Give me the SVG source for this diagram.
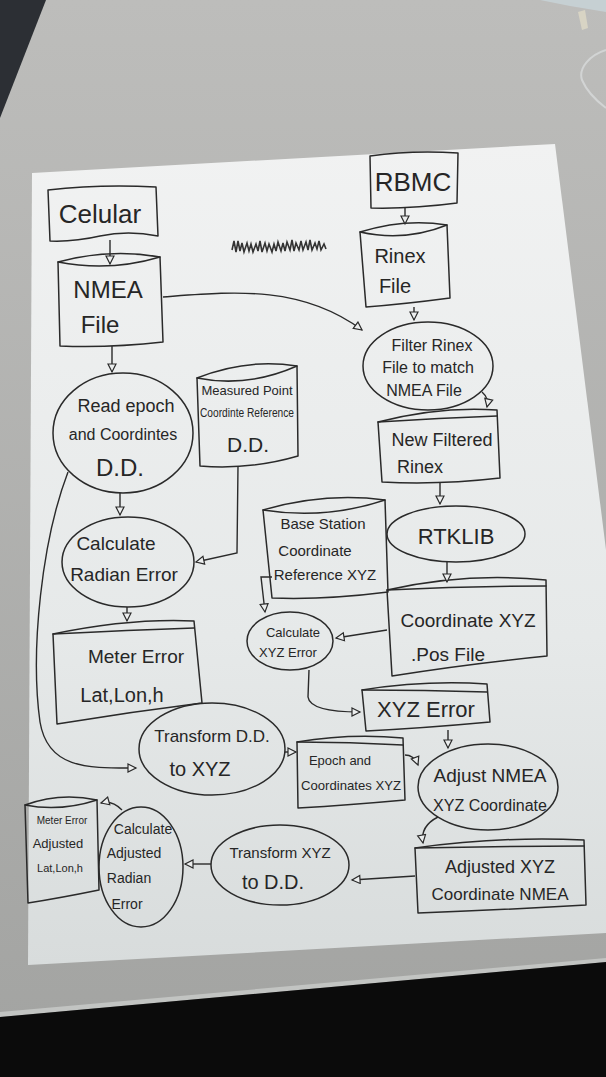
<svg xmlns="http://www.w3.org/2000/svg" width="606" height="1077" viewBox="0 0 606 1077">
<defs>
<linearGradient id="bg" x1="0" y1="0" x2="0" y2="1">
<stop offset="0" stop-color="#bdbdbb"/>
<stop offset="1" stop-color="#a2a3a1"/>
</linearGradient>
<linearGradient id="paper" x1="0" y1="0" x2="0" y2="1">
<stop offset="0" stop-color="#f1f2f2"/>
<stop offset="0.6" stop-color="#e6e9e9"/>
<stop offset="1" stop-color="#d8dcdc"/>
</linearGradient>
<marker id="arr" markerWidth="12" markerHeight="12" refX="9" refY="5" orient="auto" markerUnits="userSpaceOnUse">
<path d="M1,1 L9,5 L1,9 Z" fill="#eceeee" stroke="#2a2a2a" stroke-width="1.2"/>
</marker>
<style>
.n{fill:none;stroke:#2a2a2a;stroke-width:1.5;stroke-linejoin:round;stroke-linecap:round}
.c{fill:none;stroke:#2a2a2a;stroke-width:1.4;marker-end:url(#arr)}
text{font-family:"Liberation Sans","DejaVu Sans",sans-serif;fill:#262626;text-anchor:middle}
</style>
</defs>
<rect width="606" height="1077" fill="url(#bg)"/>
<polygon points="0,0 46,0 0,118" fill="#2c2f34"/>
<polygon points="540,0 606,0 606,12 570,6" fill="#c6d0d3"/>
<path d="M578,12 L585,10 L588,28 L582,30 Z" fill="#d8d4c4"/>
<path d="M606,50 C590,55 578,68 582,80 C588,94 598,102 606,108" fill="none" stroke="#d2d4d4" stroke-width="2"/>
<polygon points="0,1012 606,958 606,962 0,1017" fill="#c2c4c2"/>
<polygon points="0,1017 606,962 606,1077 0,1077" fill="#0b0b0b"/>
<polygon points="32,173 555,144 606,550 606,933 28,965" fill="url(#paper)"/>
<path d="M232,250 l2,-9 l2,11 l2,-11 l2,10 l2,-8 l2,9 l3,-9 l2,8 l2,-7 l2,8 l3,-8 l2,7 l2,-10 l2,11 l3,-9 l2,8 l2,-7 l3,8 l2,-8 l2,7 l2,-9 l3,9 l2,-8 l2,8 l2,-9 l3,8 l2,-10 l2,11 l2,-8 l3,7 l2,-9 l2,9 l3,-8 l2,8 l2,-10 l2,10 l3,-7 l2,6 l2,-8 l2,9 l3,-6 l2,5" fill="none" stroke="#333" stroke-width="1.6"/>

<g id="celular">
<path class="n" d="M48,190 Q100,184 156,187 L158,236 Q128,230 100,236 Q74,242 50,241 Z"/>
<text x="100" y="223" font-size="26">Celular</text>
</g>
<g id="nmea-file">
<path class="n" d="M58,262 Q110,248 160,257 L163,342 Q110,348 60,346 Z"/>
<path class="n" d="M58,262 Q110,272 160,257"/>
<text x="108" y="298" font-size="24">NMEA</text>
<text x="100" y="333" font-size="24">File</text>
</g>
<g id="rbmc">
<path class="n" d="M370,156 Q412,150 458,153 L457,203 Q412,209 371,208 Z"/>
<text x="413" y="191" font-size="26">RBMC</text>
</g>
<g id="rinex-file">
<path class="n" d="M360,232 Q405,218 447,225 L450,298 Q405,304 366,307 Z"/>
<path class="n" d="M360,232 Q405,242 447,225"/>
<text x="400" y="263" font-size="20">Rinex</text>
<text x="395" y="293" font-size="20">File</text>
</g>
<g id="filter-rinex">
<ellipse class="n" cx="428" cy="366" rx="65" ry="44"/>
<text x="432" y="351" font-size="16">Filter Rinex</text>
<text x="428" y="373" font-size="16">File to match</text>
<text x="424" y="396" font-size="16">NMEA File</text>
</g>
<g id="new-filtered-rinex">
<path class="n" d="M378,422 Q440,406 497,410 L500,478 Q440,485 382,482 Z"/>
<path class="n" d="M378,422 Q440,418 497,416"/>
<text x="442" y="446" font-size="18">New Filtered</text>
<text x="420" y="473" font-size="18">Rinex</text>
</g>
<g id="read-epoch">
<ellipse class="n" cx="123" cy="433" rx="70" ry="60"/>
<text x="126" y="412" font-size="18">Read epoch</text>
<text x="123" y="440" font-size="16">and Coordintes</text>
<text x="120" y="476" font-size="24">D.D.</text>
</g>
<g id="measured-point">
<path class="n" d="M197,378 Q247,358 297,366 L298,456 Q250,470 200,466 Z"/>
<path class="n" d="M197,378 Q247,388 297,366"/>
<text x="247" y="395" font-size="13">Measured Point</text>
<text x="247" y="417" font-size="12" textLength="94" lengthAdjust="spacingAndGlyphs">Coordinte Reference</text>
<text x="248" y="452" font-size="21">D.D.</text>
</g>
<g id="calc-radian">
<ellipse class="n" cx="128" cy="562" rx="66" ry="45"/>
<text x="116" y="550" font-size="19">Calculate</text>
<text x="124" y="581" font-size="19">Radian Error</text>
</g>
<g id="meter-error">
<path class="n" d="M53,634 Q130,618 194,621 L202,703 Q130,712 57,724 Z"/>
<path class="n" d="M53,634 Q130,630 194,628"/>
<text x="136" y="663" font-size="19">Meter Error</text>
<text x="122" y="702" font-size="20">Lat,Lon,h</text>
</g>
<g id="base-station">
<path class="n" d="M263,510 Q325,492 385,500 L388,592 Q325,600 272,598 Z"/>
<path class="n" d="M263,510 Q325,520 385,500"/>
<text x="323" y="529" font-size="15">Base Station</text>
<text x="315" y="556" font-size="15">Coordinate</text>
<text x="325" y="580" font-size="15">Reference XYZ</text>
</g>
<g id="rtklib">
<ellipse class="n" cx="456" cy="534" rx="69" ry="28"/>
<text x="456" y="544" font-size="22">RTKLIB</text>
</g>
<g id="coordinate-pos">
<path class="n" d="M387,590 Q467,572 546,580 L547,656 Q467,664 392,676 Z"/>
<path class="n" d="M387,590 Q467,586 546,586"/>
<text x="468" y="627" font-size="19">Coordinate XYZ</text>
<text x="448" y="661" font-size="19">.Pos File</text>
</g>
<g id="calc-xyz">
<ellipse class="n" cx="290" cy="641" rx="43" ry="29"/>
<text x="293" y="637" font-size="13">Calculate</text>
<text x="288" y="657" font-size="13">XYZ Error</text>
</g>
<g id="xyz-error">
<path class="n" d="M362,690 Q425,680 487,684 L490,722 Q425,728 366,731 Z"/>
<path class="n" d="M362,690 Q425,690 487,692"/>
<text x="426" y="717" font-size="22">XYZ Error</text>
</g>
<g id="transform-dd">
<ellipse class="n" cx="212" cy="749" rx="73" ry="46"/>
<text x="212" y="742" font-size="17">Transform D.D.</text>
<text x="200" y="776" font-size="20">to XYZ</text>
</g>
<g id="epoch-xyz">
<path class="n" d="M297,742 Q350,733 403,738 L405,800 Q350,805 298,808 Z"/>
<path class="n" d="M297,742 Q350,742 403,745"/>
<text x="340" y="765" font-size="13">Epoch and</text>
<text x="351" y="790" font-size="13" textLength="100" lengthAdjust="spacingAndGlyphs">Coordinates XYZ</text>
</g>
<g id="adjust-nmea">
<ellipse class="n" cx="488" cy="787" rx="70" ry="43"/>
<text x="490" y="782" font-size="19">Adjust NMEA</text>
<text x="490" y="811" font-size="16">XYZ Coordinate</text>
</g>
<g id="adjusted-xyz">
<path class="n" d="M415,848 Q500,836 584,840 L586,905 Q500,910 418,913 Z"/>
<path class="n" d="M415,848 Q500,846 584,846"/>
<text x="500" y="873" font-size="18">Adjusted XYZ</text>
<text x="500" y="900" font-size="17">Coordinate NMEA</text>
</g>
<g id="transform-xyz">
<ellipse class="n" cx="280" cy="865" rx="69" ry="40"/>
<text x="280" y="858" font-size="15">Transform XYZ</text>
<text x="273" y="889" font-size="20">to D.D.</text>
</g>
<g id="calc-adjusted-radian">
<ellipse class="n" cx="141" cy="867" rx="42" ry="60"/>
<text x="143" y="834" font-size="14">Calculate</text>
<text x="134" y="858" font-size="14">Adjusted</text>
<text x="129" y="883" font-size="14">Radian</text>
<text x="127" y="909" font-size="14">Error</text>
</g>
<g id="meter-error-adjusted">
<path class="n" d="M25,805 Q60,792 97,800 L99,890 Q60,898 28,903 Z"/>
<path class="n" d="M25,805 Q60,812 97,800"/>
<text x="62" y="824" font-size="10">Meter Error</text>
<text x="58" y="848" font-size="13">Adjusted</text>
<text x="60" y="872" font-size="11">Lat,Lon,h</text>
</g>

<g id="connectors">
<path class="c" d="M110,240 L110,264"/>
<path class="c" d="M112,346 L112,372"/>
<path class="c" d="M163,297 C230,292 300,284 362,330"/>
<path class="c" d="M405,208 L405,224"/>
<path class="c" d="M414,307 L414,320"/>
<path class="c" d="M482,392 Q489,398 487,407"/>
<path class="c" d="M440,483 L440,504"/>
<path class="c" d="M120,493 L120,515"/>
<path class="c" d="M238,466 L237,553 L196,562"/>
<path class="c" d="M127,607 L127,621"/>
<path class="c" d="M68,472 C42,540 30,650 40,722 C48,770 90,768 136,768"/>
<path class="c" d="M447,562 L447,582"/>
<path class="c" d="M272,577 L261,577 L265,612"/>
<path class="c" d="M387,630 L336,638"/>
<path class="c" d="M309,670 L308,697 Q310,712 360,712"/>
<path class="c" d="M285,752 L296,752"/>
<path class="c" d="M448,730 L448,748"/>
<path class="c" d="M405,755 Q414,755 418,765"/>
<path class="c" d="M438,817 Q420,826 423,843"/>
<path class="c" d="M415,876 L352,880"/>
<path class="c" d="M211,864 L185,864"/>
<path class="c" d="M122,810 Q112,800 101,803"/>
</g>
</svg>
